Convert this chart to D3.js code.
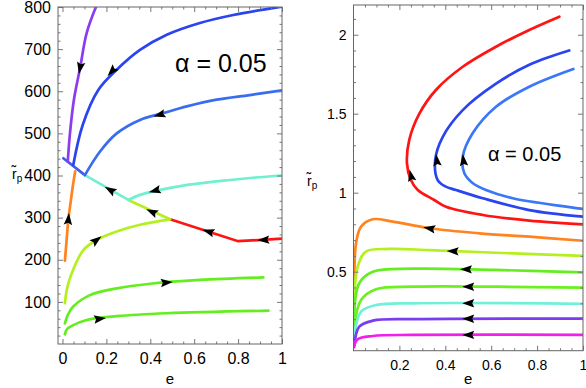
<!DOCTYPE html>
<html>
<head>
<meta charset="utf-8">
<script src="https://cdn.jsdelivr.net/npm/d3@7"></script>
<style>
body { margin: 0; background: #fff; }
text { font-family: "Liberation Sans", Arial, sans-serif; fill: #000; }
</style>
</head>
<body>
<div id="chart"></div>
<script>

var width = 586,
    height = 388

// ---- left panel: e vs r_p (large r) ----
var leftTickValsX = [0, 0.2, 0.4, 0.6, 0.8, 1];
var leftTickLabelsX = ["0", "0.2", "0.4", "0.6", "0.8", "1"];
var leftTickValsY = [100, 200, 300, 400, 500, 600, 700, 800];
var leftTickLabelsY = ["100", "200", "300", "400", "500", "600", "700", "800"];

var leftPurple = [[0.024, 433], [0.034, 500], [0.052, 580], [0.080, 655], [0.110, 738], [0.153, 801]];
var leftBlueDark = [[0.049, 425], [0.092, 520], [0.163, 603], [0.247, 651], [0.353, 698], [0.475, 734], [0.626, 762], [0.778, 781], [1.0, 801]];
var leftBlueMid = [[0.102, 401], [0.171, 457], [0.247, 500], [0.353, 532], [0.459, 548], [0.566, 564], [0.702, 580], [0.854, 591], [1.0, 602]];
var leftCyan = [[0.30, 342], [0.353, 354], [0.429, 364], [0.55, 376], [0.702, 386], [0.854, 394], [1.0, 400]];
var leftOrange = [[0.011, 198], [0.020, 255], [0.027, 297], [0.038, 340], [0.048, 378], [0.058, 410]];
var leftYellow = [[0.011, 97], [0.020, 130], [0.042, 168], [0.095, 223], [0.156, 247], [0.247, 267], [0.353, 283], [0.49, 296]];
var leftGreen1 = [[0.011, 49], [0.025, 70], [0.049, 89], [0.125, 116], [0.247, 132], [0.40, 143], [0.626, 152], [0.915, 158]];
var leftGreen2 = [[0.011, 23], [0.020, 35], [0.042, 43], [0.11, 57], [0.247, 66], [0.475, 73], [0.938, 79]];
// separatrix, drawn as straight pieces
var sepBlue = [[0.004, 441], [0.102, 401]];
var sepCyan = [[0.102, 401], [0.30, 342]];
var sepYellow = [[0.30, 342], [0.49, 296]];
var sepRed = [[0.49, 296], [0.80, 244], [1.0, 250]];

// arrows: [series, e, r, direction along the points]
var leftArrows = [
    ["leftPurple", 0.08, 655, -1],
    ["leftBlueDark", 0.224, 647, -1],
    ["leftBlueMid", 0.441, 544, -1],
    ["leftCyan", 0.42, 364, -1],
    ["sepCyan", 0.216, 366, -1],
    ["sepYellow", 0.406, 314, -1],
    ["sepRed", 0.664, 267, -1],
    ["sepRed", 0.915, 247, -1],
    ["leftOrange", 0.027, 297, 1],
    ["leftYellow", 0.156, 247, 1],
    ["leftGreen1", 0.475, 146, 1],
    ["leftGreen2", 0.171, 60, 1]
];

// ---- right panel: e vs r_p (small r) ----
var rightTickValsX = [0.2, 0.4, 0.6, 0.8, 1];
var rightTickLabelsX = ["0.2", "0.4", "0.6", "0.8", "1"];
var rightTickValsY = [0.5, 1, 1.5, 2];
var rightTickLabelsY = ["0.5", "1", "1.5", "2"];

var rightRed = [[0.897, 2.114], [0.766, 2.03], [0.621, 1.924], [0.476, 1.797], [0.359, 1.65], [0.287, 1.50], [0.243, 1.334], [0.233, 1.186], [0.25, 1.08], [0.28, 1.017], [0.352, 0.954], [0.403, 0.911], [0.563, 0.859], [0.766, 0.823], [1.0, 0.80]];
var rightBlue = [[0.94, 1.90], [0.766, 1.81], [0.621, 1.69], [0.476, 1.523], [0.389, 1.354], [0.356, 1.207], [0.367, 1.08], [0.40, 1.04], [0.447, 1.017], [0.563, 0.965], [0.766, 0.89], [1.0, 0.848]];
var rightBlueLight = [[0.958, 1.783], [0.766, 1.671], [0.621, 1.544], [0.519, 1.376], [0.476, 1.228], [0.483, 1.123], [0.52, 1.06], [0.577, 1.017], [0.694, 0.965], [1.0, 0.897]];
var rightOrange = [[0.0, 0.025], [0.003, 0.384], [0.011, 0.68], [0.033, 0.785], [0.084, 0.832], [0.171, 0.817], [0.33, 0.775], [0.548, 0.743], [0.766, 0.722], [1.0, 0.696]];
var rightYellow = [[0.003, 0.278], [0.018, 0.53], [0.054, 0.627], [0.156, 0.644], [0.33, 0.637], [0.621, 0.62], [1.0, 0.60]];
var rightGreen1 = [[0.003, 0.215], [0.025, 0.427], [0.084, 0.50], [0.258, 0.519], [0.621, 0.511], [1.0, 0.496]];
var rightGreen2 = [[0.003, 0.152], [0.033, 0.321], [0.098, 0.389], [0.258, 0.405], [0.621, 0.405], [1.0, 0.399]];
var rightCyan = [[0.003, 0.089], [0.033, 0.247], [0.098, 0.289], [0.258, 0.30], [1.0, 0.297]];
var rightPurple = [[0.003, 0.025], [0.025, 0.152], [0.084, 0.19], [0.258, 0.20], [1.0, 0.203]];
var rightMagenta = [[0.0, 0.02], [0.018, 0.072], [0.084, 0.093], [0.258, 0.10], [1.0, 0.10]];

var rightArrows = [
    ["rightRed", 0.25, 1.11, -1],
    ["rightBlue", 0.363, 1.207, -1],
    ["rightBlueLight", 0.479, 1.207, -1],
    ["rightOrange", 0.33, 0.775, -1],
    ["rightYellow", 0.432, 0.63, -1],
    ["rightGreen1", 0.49, 0.515, -1],
    ["rightGreen2", 0.50, 0.405, -1],
    ["rightCyan", 0.50, 0.30, -1],
    ["rightPurple", 0.50, 0.202, -1],
    ["rightMagenta", 0.50, 0.10, -1]
];

var series = {
    leftPurple: leftPurple, leftBlueDark: leftBlueDark, leftBlueMid: leftBlueMid, leftCyan: leftCyan,
    leftOrange: leftOrange, leftYellow: leftYellow, leftGreen1: leftGreen1, leftGreen2: leftGreen2,
    sepBlue: sepBlue, sepCyan: sepCyan, sepYellow: sepYellow, sepRed: sepRed,
    rightRed: rightRed, rightBlue: rightBlue, rightBlueLight: rightBlueLight, rightOrange: rightOrange,
    rightYellow: rightYellow, rightGreen1: rightGreen1, rightGreen2: rightGreen2, rightCyan: rightCyan,
    rightPurple: rightPurple, rightMagenta: rightMagenta
}

var colors = {
    leftPurple: "#8a3cf0", leftBlueDark: "#2a44f0", leftBlueMid: "#3a6cf0", leftCyan: "#70f0d0",
    leftOrange: "#ff8420", leftYellow: "#b4f020", leftGreen1: "#64ee20", leftGreen2: "#64ee20",
    sepBlue: "#3a5cf0", sepCyan: "#70f0d0", sepYellow: "#b4f020", sepRed: "#ff1414",
    rightRed: "#ff1414", rightBlue: "#2a44f0", rightBlueLight: "#3a78f8", rightOrange: "#ff8420",
    rightYellow: "#b4f020", rightGreen1: "#64ee20", rightGreen2: "#6cf020", rightCyan: "#70f0d8",
    rightPurple: "#7a3cf0", rightMagenta: "#f020e8"
}

var straight = { sepBlue: 1, sepCyan: 1, sepYellow: 1, sepRed: 1 };

var svg = d3.select("#chart").append("svg")
    .attr("width", width)
    .attr("height", height);

function drawPanel(p) {
    var x = d3.scaleLinear().domain(p.xDomain).range([p.left, p.right]);
    var y = d3.scaleLinear().domain(p.yDomain).range([p.bottom, p.top]);
    var g = svg.append("g");

    g.append("clipPath").attr("id", p.id)
        .append("rect")
        .attr("x", p.left).attr("y", p.top)
        .attr("width", p.right - p.left).attr("height", p.bottom - p.top);

    var plot = g.append("g").attr("clip-path", "url(#" + p.id + ")");

    p.lines.forEach(function (name) {
        var line = d3.line()
            .x(function (d) { return x(d[0]); })
            .y(function (d) { return y(d[1]); })
            .curve(straight[name] ? d3.curveLinear : d3.curveCatmullRom.alpha(0.5));
        plot.append("path")
            .datum(series[name])
            .attr("fill", "none")
            .attr("stroke", colors[name])
            .attr("stroke-width", 2.7)
            .attr("stroke-linecap", "round")
            .attr("d", line);
    });

    // arrow heads, oriented along the nearest segment of their curve
    p.arrows.forEach(function (a) {
        var pts = series[a[0]].map(function (d) { return [x(d[0]), y(d[1])]; });
        var px = x(a[1]), py = y(a[2]);
        var best = 1e9, ang = 0;
        for (var i = 0; i < pts.length - 1; i++) {
            var mx = (pts[i][0] + pts[i + 1][0]) / 2, my = (pts[i][1] + pts[i + 1][1]) / 2;
            var dist = Math.hypot(mx - px, my - py);
            if (dist < best) {
                best = dist;
                ang = Math.atan2(pts[i + 1][1] - pts[i][1], pts[i + 1][0] - pts[i][0]);
            }
        }
        if (a[3] < 0) ang += Math.PI;
        plot.append("path")
            .attr("d", "M6,0 L-6,-4.2 L-4,0 L-6,4.2 Z")
            .attr("fill", "#000")
            .attr("transform", "translate(" + px + "," + py + ") rotate(" + (ang * 180 / Math.PI) + ")");
    });

    // frame with inward ticks on all four sides
    var tickCol = "#777";
    function ticks(axisFn, scale, vals, size, labels, pos, pad, fs) {
        var ax = axisFn(scale).tickValues(vals).tickSize(size).tickPadding(pad)
            .tickFormat(labels ? function (d, i) { return labels[i]; } : "");
        var ga = g.append("g").attr("transform", pos).call(ax);
        ga.select(".domain").remove();
        ga.selectAll("line").attr("stroke", tickCol).attr("stroke-width", 1);
        ga.selectAll("text").attr("font-size", fs).attr("font-family", "Liberation Sans, Arial, sans-serif").attr("fill", "#000");
    }
    var bt = "translate(0," + p.bottom + ")", tp = "translate(0," + p.top + ")",
        lt = "translate(" + p.left + ",0)", rt = "translate(" + p.right + ",0)";
    ticks(d3.axisBottom, x, p.xTicks, -5, p.xLabels, bt, 9, p.fs);
    ticks(d3.axisBottom, x, p.xMinor, -2.5, null, bt, 0, p.fs);
    ticks(d3.axisTop, x, p.xTicks, -5, null, tp, 0, p.fs);
    ticks(d3.axisTop, x, p.xMinor, -2.5, null, tp, 0, p.fs);
    ticks(d3.axisLeft, y, p.yTicks, -5, p.yLabels, lt, 7, p.fs);
    ticks(d3.axisLeft, y, p.yMinor, -2.5, null, lt, 0, p.fs);
    ticks(d3.axisRight, y, p.yTicks, -5, null, rt, 0, p.fs);
    ticks(d3.axisRight, y, p.yMinor, -2.5, null, rt, 0, p.fs);

    g.append("rect")
        .attr("x", p.left).attr("y", p.top)
        .attr("width", p.right - p.left).attr("height", p.bottom - p.top)
        .attr("fill", "none").attr("stroke", "#666").attr("stroke-width", 1);

    // axis titles
    g.append("text")
        .attr("x", (p.left + p.right) / 2 + p.eShift).attr("y", 384)
        .attr("text-anchor", "middle").attr("font-size", 15)
        .text("e");
    var yl = g.append("text")
        .attr("x", p.yLabelX).attr("y", p.yLabelY)
        .attr("font-size", 14)
        .text("r\u0303");
    yl.append("tspan").attr("font-size", 10).attr("dy", 3).text("p");

    g.append("text")
        .attr("x", p.alphaX).attr("y", p.alphaY)
        .attr("font-size", p.alphaFs)
        .text("\u03b1 = 0.05");
}

drawPanel({
    id: "clipL",
    left: 58, right: 282, top: 7, bottom: 344,
    xDomain: [-0.0205, 1], yDomain: [0, 800],
    xTicks: leftTickValsX, xLabels: leftTickLabelsX,
    xMinor: d3.range(0, 1.001, 0.05).filter(function (v) { return Math.abs(v * 5 - Math.round(v * 5)) > 1e-6; }),
    yTicks: leftTickValsY, yLabels: leftTickLabelsY,
    yMinor: d3.range(20, 800, 20).filter(function (v) { return v % 100 !== 0; }),
    fs: 16,
    lines: ["sepBlue", "sepCyan", "sepYellow", "sepRed", "leftCyan", "leftBlueMid", "leftBlueDark", "leftPurple",
            "leftOrange", "leftYellow", "leftGreen1", "leftGreen2"],
    arrows: leftArrows,
    eShift: 0, yLabelX: 12, yLabelY: 179,
    alphaX: 175, alphaY: 72, alphaFs: 25
});

drawPanel({
    id: "clipR",
    left: 353.5, right: 583, top: 5, bottom: 350.7,
    xDomain: [0, 1], yDomain: [0, 2.188],
    xTicks: rightTickValsX, xLabels: rightTickLabelsX,
    xMinor: d3.range(0.05, 1.001, 0.05).filter(function (v) { return Math.abs(v * 5 - Math.round(v * 5)) > 1e-6; }),
    yTicks: rightTickValsY, yLabels: rightTickLabelsY,
    yMinor: d3.range(0.1, 2.15, 0.1).filter(function (v) { return Math.abs(v * 2 - Math.round(v * 2)) > 1e-6; }),
    fs: 14,
    lines: ["rightRed", "rightBlue", "rightBlueLight", "rightOrange", "rightYellow", "rightGreen1", "rightGreen2",
            "rightCyan", "rightPurple", "rightMagenta"],
    arrows: rightArrows,
    eShift: 0, yLabelX: 307, yLabelY: 186,
    alphaX: 488, alphaY: 161, alphaFs: 20
});

</script>
</body>
</html>
